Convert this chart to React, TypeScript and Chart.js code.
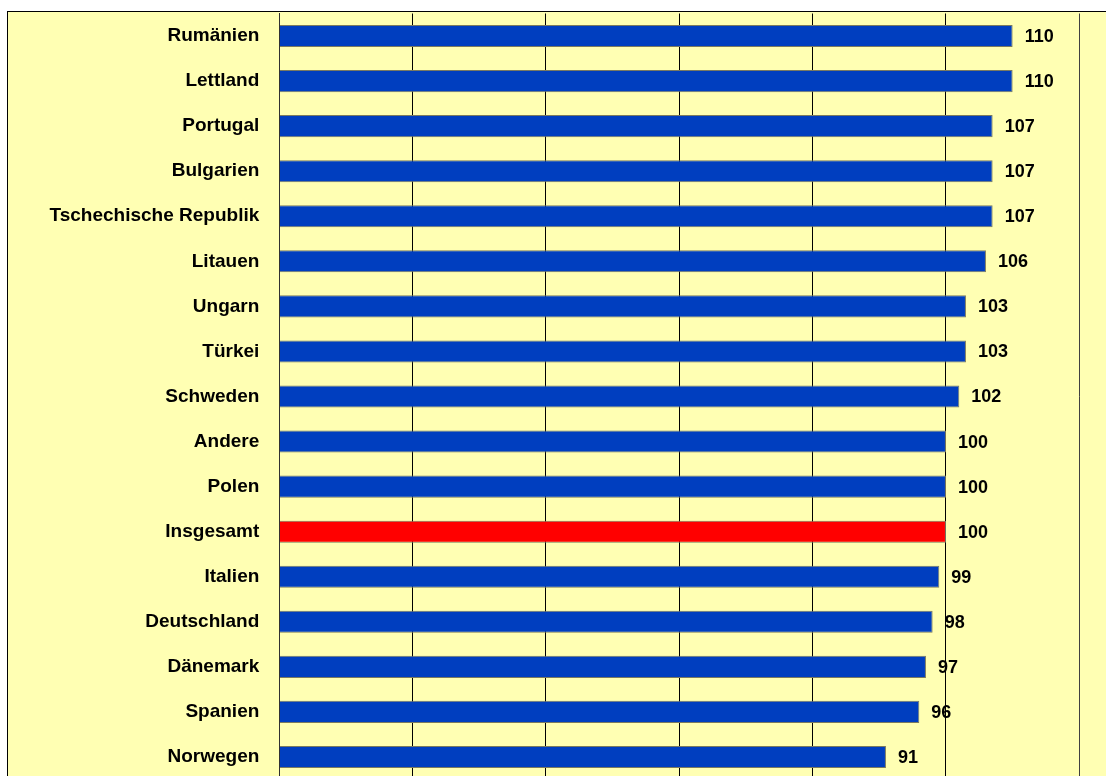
import React, { useEffect, useRef } from 'react';
import { Chart, registerables } from 'chart.js';

Chart.register(...registerables);

const categories = [
  'Rumänien',
  'Lettland',
  'Portugal',
  'Bulgarien',
  'Tschechische Republik',
  'Litauen',
  'Ungarn',
  'Türkei',
  'Schweden',
  'Andere',
  'Polen',
  'Insgesamt',
  'Italien',
  'Deutschland',
  'Dänemark',
  'Spanien',
  'Norwegen',
];
const values = [110, 110, 107, 107, 107, 106, 103, 103, 102, 100, 100, 100, 99, 98, 97, 96, 91];
const highlightCategory = 'Insgesamt';
const xMin = 0;
const xMax = 120;
const xStep = 20;

const FONT = '"Liberation Sans", Arial, Helvetica, sans-serif';
const BLUE = '#003EBF';
const RED = '#FF0000';
const BG = '#FFFFB3';

export default function App() {
  const ref = useRef<HTMLCanvasElement>(null);

  useEffect(() => {
    if (!ref.current) return;
    const valueLabels = {
      id: 'valueLabels',
      afterDatasetsDraw(chart: any) {
        const ctx = chart.ctx;
        const meta = chart.getDatasetMeta(0);
        ctx.save();
        ctx.font = `bold 18px ${FONT}`;
        ctx.fillStyle = '#000';
        ctx.textAlign = 'left';
        ctx.textBaseline = 'middle';
        meta.data.forEach((el: any, i: number) => {
          ctx.fillText(String(values[i]), el.x + 12, el.y + 1);
        });
        ctx.restore();
      },
    };

    const chart = new Chart(ref.current, {
      type: 'bar',
      data: {
        labels: categories,
        datasets: [
          {
            data: values,
            backgroundColor: categories.map((c) => (c === highlightCategory ? RED : BLUE)),
            borderColor: '#7a7a60',
            borderWidth: 1,
            barPercentage: 0.49,
            categoryPercentage: 1,
          },
        ],
      },
      options: {
        indexAxis: 'y',
        responsive: false,
        animation: false,
        layout: { padding: { top: 1.5, bottom: 22.5, right: 38.7, left: 0 } },
        plugins: {
          legend: { display: false },
          tooltip: { enabled: false },
        },
        scales: {
          x: {
            min: xMin,
            max: xMax,
            ticks: { display: false, stepSize: xStep },
            grid: {
              drawTicks: false,
              lineWidth: 1,
              color: (ctx: any) => (ctx.tick && ctx.tick.value === xMax ? '#404040' : '#000000'),
            },
            border: { display: false },
            afterFit(scale: any) {
              scale.height = 0;
              scale.paddingLeft = 0;
              scale.paddingRight = 0;
            },
          },
          y: {
            ticks: {
              color: '#000',
              padding: 20,
              font: { family: FONT, size: 19, weight: 'bold' },
            },
            grid: { display: false, drawTicks: false },
            border: { display: true, color: '#303030', width: 1 },
            afterFit(scale: any) {
              scale.width = 271.3;
              scale.paddingTop = 0;
              scale.paddingBottom = 0;
            },
          },
        },
      },
      plugins: [valueLabels],
    } as any);
    return () => chart.destroy();
  }, []);

  return (
    <div style={{ position: 'fixed', left: 0, top: 0, right: 0, bottom: 0, overflow: 'hidden', background: '#fff' }}>
      <div
        style={{
          position: 'absolute',
          left: 7,
          top: 11,
          width: 1110,
          height: 790,
          border: '1px solid #000',
          background: BG,
        }}
      >
        <canvas ref={ref} width={1110} height={790} style={{ display: 'block' }} />
      </div>
    </div>
  );
}
